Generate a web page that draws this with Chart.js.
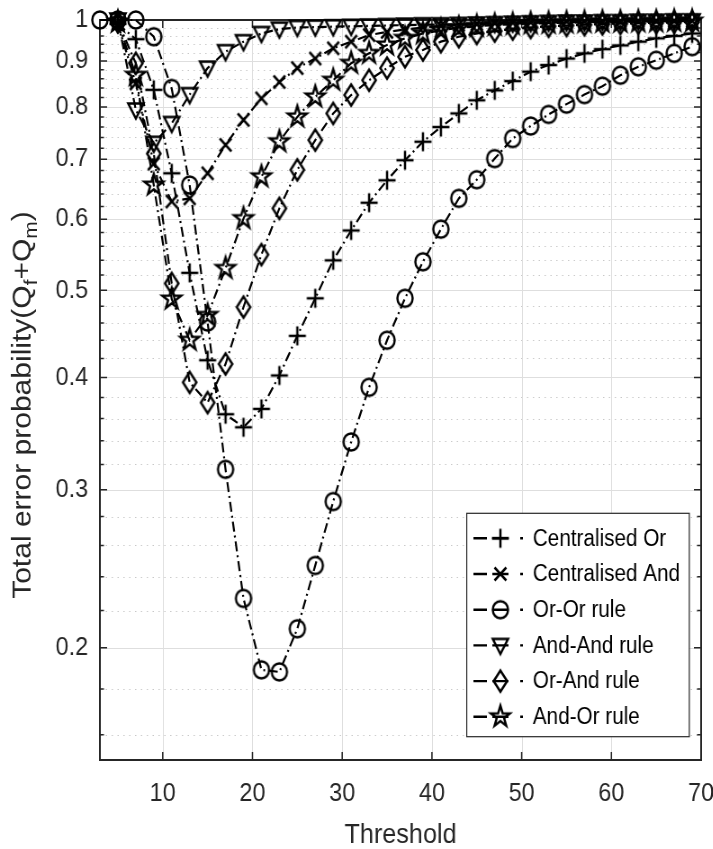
<!DOCTYPE html>
<html>
<head>
<meta charset="utf-8">
<script src="https://cdn.jsdelivr.net/npm/chart.js@4.4.0/dist/chart.umd.min.js"></script>
<style>
  html, body { margin: 0; padding: 0; background: #fff; overflow: hidden; }
  /* the figure is drawn slightly wide and squeezed back horizontally */
  #wrap { position: relative; width: 792px; height: 849px; transform: scaleX(0.9); transform-origin: 0 0; }
</style>
</head>
<body>
<div id="wrap"><canvas id="errChart"></canvas></div>
<script>
const thresholds = [3, 5, 7, 9, 11, 13, 15, 17, 19, 21, 23, 25, 27, 29, 31, 33, 35,
                    37, 39, 41, 43, 45, 47, 49, 51, 53, 55, 57, 59, 61, 63, 65, 67, 69];

// null = no point at that threshold
const centralisedOr  = [null, 0.99, 0.952, 0.836, 0.675, 0.523, 0.418, 0.364, 0.352, 0.369, 0.402, 0.445, 0.490, 0.540, 0.583, 0.626, 0.663,
                        0.698, 0.732, 0.760, 0.787, 0.814, 0.835, 0.855, 0.876, 0.891, 0.906, 0.918, 0.928, 0.937, 0.946, 0.954, 0.960, 0.966];
const centralisedAnd = [null, 0.99, 0.85, 0.692, 0.628, 0.633, 0.675, 0.726, 0.774, 0.818, 0.853, 0.884, 0.906, 0.930, 0.946, 0.962, 0.970,
                        0.976, 0.981, 0.985, 0.988, 0.990, 0.992, 0.993, 0.994, 0.995, 0.996, 0.996, 0.997, 0.997, 0.998, 0.998, 0.998, 0.998];
const orOrRule       = [1.0, 1.0, 1.0, 0.958, 0.839, 0.655, 0.461, 0.316, 0.227, 0.189, 0.188, 0.210, 0.247, 0.291, 0.339, 0.390, 0.440,
                        0.490, 0.538, 0.585, 0.633, 0.664, 0.701, 0.738, 0.762, 0.785, 0.806, 0.826, 0.844, 0.868, 0.887, 0.902, 0.918, 0.934];
const andAndRule     = [null, 1.0, 0.794, 0.729, 0.767, 0.826, 0.884, 0.922, 0.946, 0.966, 0.977, 0.981, 0.982, 0.983, 0.984, 0.985, 0.986,
                        0.987, 0.988, 0.988, 0.989, 0.990, 0.991, 0.992, 0.993, 0.994, 0.995, 0.995, 0.996, 0.996, 0.997, 0.997, 0.998, 0.998];
const orAndRule      = [null, 0.995, 0.895, 0.710, 0.509, 0.395, 0.375, 0.414, 0.479, 0.548, 0.617, 0.681, 0.735, 0.787, 0.825, 0.857, 0.884,
                        0.910, 0.926, 0.946, 0.958, 0.966, 0.972, 0.977, 0.981, 0.984, 0.986, 0.988, 0.990, 0.991, 0.992, 0.993, 0.994, 0.995];
const andOrRule      = [null, 0.995, 0.868, 0.655, 0.489, 0.440, 0.469, 0.529, 0.601, 0.669, 0.732, 0.780, 0.821, 0.857, 0.895, 0.918, 0.938,
                        0.954, 0.966, 0.974, 0.980, 0.984, 0.987, 0.989, 0.991, 0.992, 0.993, 0.994, 0.995, 0.995, 0.996, 0.996, 0.997, 0.997];

const seriesNames = ['Centralised Or', 'Centralised And', 'Or-Or rule', 'And-And rule', 'Or-And rule', 'And-Or rule'];
const xTickValues = [10, 20, 30, 40, 50, 60, 70];
const yTickValues = [0.2, 0.3, 0.4, 0.5, 0.6, 0.7, 0.8, 0.9, 1];
const yMinorValues = [0.16, 0.18, 0.22, 0.24, 0.26, 0.28, 0.32, 0.34, 0.36, 0.38, 0.42, 0.44, 0.46, 0.48,
                      0.52, 0.54, 0.56, 0.58, 0.62, 0.64, 0.66, 0.68, 0.72, 0.74, 0.76, 0.78,
                      0.82, 0.84, 0.86, 0.88, 0.92, 0.94, 0.96, 0.98];

const FONT = '"Liberation Sans", Arial, Helvetica, sans-serif';
const INK = '#262626';
const CANVAS_W = 792, CANVAS_H = 849;
const AREA = { left: 111, right: 779, top: 20, bottom: 760 };

// open matlab-style markers, drawn once into small canvases
function markerCanvas(draw) {
  const c = document.createElement('canvas');
  c.width = 30; c.height = 30;
  const g = c.getContext('2d');
  g.translate(15, 15);
  g.strokeStyle = '#000';
  g.lineWidth = 2.5;
  g.beginPath();
  draw(g);
  g.stroke();
  return c;
}

const markers = [
  markerCanvas(g => { g.moveTo(-9.5, 0); g.lineTo(9.5, 0); g.moveTo(0, -9.5); g.lineTo(0, 9.5); }),
  markerCanvas(g => { g.moveTo(-6.5, -6.5); g.lineTo(6.5, 6.5); g.moveTo(6.5, -6.5); g.lineTo(-6.5, 6.5); }),
  markerCanvas(g => { g.arc(0, 0, 8.5, 0, Math.PI * 2); }),
  markerCanvas(g => { g.moveTo(-8.5, -6.5); g.lineTo(8.5, -6.5); g.lineTo(0, 8.5); g.closePath(); }),
  markerCanvas(g => { g.moveTo(0, -10.5); g.lineTo(7.5, 0); g.lineTo(0, 10.5); g.lineTo(-7.5, 0); g.closePath(); }),
  markerCanvas(g => {
    for (let k = 0; k < 10; k++) {
      const r = k % 2 ? 4.3 : 11;
      const a = -Math.PI / 2 + k * Math.PI / 5;
      if (k === 0) g.moveTo(r * Math.cos(a), r * Math.sin(a));
      else g.lineTo(r * Math.cos(a), r * Math.sin(a));
    }
    g.closePath();
  })
];

const allSeries = [centralisedOr, centralisedAnd, orOrRule, andAndRule, orAndRule, andOrRule];

const datasets = allSeries.map((vals, i) => ({
  label: seriesNames[i],
  data: thresholds.map((x, j) => ({ x: x, y: vals[j] })),
  borderColor: '#000',
  borderWidth: 2.2,
  borderDash: [10, 4, 2, 4],
  pointStyle: markers[i],
  pointRadius: 8,
  fill: false,
  tension: 0,
  clip: false
}));

// grid, box and inward ticks
const framePlugin = {
  id: 'frame',
  beforeDatasetsDraw(chart) {
    const ctx = chart.ctx;
    const xs = chart.scales.x, ys = chart.scales.y;
    const a = chart.chartArea;
    ctx.save();
    ctx.lineWidth = 1;
    ctx.strokeStyle = '#c8c8c8';
    ctx.setLineDash([1.5, 5]);
    yMinorValues.forEach(v => {
      const y = Math.round(ys.getPixelForValue(v)) + 0.5;
      ctx.beginPath(); ctx.moveTo(a.left, y); ctx.lineTo(a.right, y); ctx.stroke();
    });
    ctx.setLineDash([]);
    ctx.strokeStyle = '#dedede';
    yTickValues.forEach(v => {
      const y = Math.round(ys.getPixelForValue(v)) + 0.5;
      ctx.beginPath(); ctx.moveTo(a.left, y); ctx.lineTo(a.right, y); ctx.stroke();
    });
    xTickValues.forEach(v => {
      const x = Math.round(xs.getPixelForValue(v)) + 0.5;
      ctx.beginPath(); ctx.moveTo(x, a.top); ctx.lineTo(x, a.bottom); ctx.stroke();
    });

    ctx.strokeStyle = INK;
    ctx.lineWidth = 1.5;
    yMinorValues.forEach(v => {
      const y = ys.getPixelForValue(v);
      ctx.beginPath();
      ctx.moveTo(a.left, y); ctx.lineTo(a.left + 4.5, y);
      ctx.moveTo(a.right, y); ctx.lineTo(a.right - 4.5, y);
      ctx.stroke();
    });
    yTickValues.forEach(v => {
      const y = ys.getPixelForValue(v);
      ctx.beginPath();
      ctx.moveTo(a.left, y); ctx.lineTo(a.left + 8, y);
      ctx.moveTo(a.right, y); ctx.lineTo(a.right - 8, y);
      ctx.stroke();
    });
    xTickValues.forEach(v => {
      const x = xs.getPixelForValue(v);
      ctx.beginPath();
      ctx.moveTo(x, a.bottom); ctx.lineTo(x, a.bottom - 8);
      ctx.moveTo(x, a.top); ctx.lineTo(x, a.top + 8);
      ctx.stroke();
    });

    ctx.lineWidth = 2;
    ctx.strokeRect(a.left, a.top, a.right - a.left, a.bottom - a.top);
    ctx.restore();
  },
  afterDraw(chart) {
    const ctx = chart.ctx;
    const a = chart.chartArea;
    ctx.save();

    // axis titles
    ctx.fillStyle = INK;
    ctx.font = '28px ' + FONT;
    ctx.textAlign = 'center';
    ctx.textBaseline = 'alphabetic';
    ctx.fillText('Threshold', (a.left + a.right) / 2, 843);

    const parts = [['Total error probability(Q', false], ['f', true], ['+Q', false], ['m', true], [')', false]];
    const mainFont = '30px ' + FONT, subFont = '21px ' + FONT;
    ctx.translate(34, 405);
    ctx.rotate(-Math.PI / 2);
    ctx.textAlign = 'left';
    let total = 0;
    parts.forEach(p => { ctx.font = p[1] ? subFont : mainFont; total += ctx.measureText(p[0]).width; });
    let tx = -total / 2;
    parts.forEach(p => {
      ctx.font = p[1] ? subFont : mainFont;
      ctx.fillText(p[0], tx, p[1] ? 7 : 0);
      tx += ctx.measureText(p[0]).width;
    });
    ctx.restore();

    // legend
    ctx.save();
    const L = 518.6, R = 765.9, T = 513.3, B = 736.7;
    ctx.fillStyle = '#fff';
    ctx.fillRect(L, T, R - L, B - T);
    ctx.strokeStyle = INK;
    ctx.lineWidth = 1.2;
    ctx.strokeRect(L, T, R - L, B - T);
    ctx.font = '23px ' + FONT;
    ctx.textAlign = 'left';
    ctx.textBaseline = 'middle';
    seriesNames.forEach((name, i) => {
      const y = 538.3 + i * 35.7;
      ctx.strokeStyle = '#000';
      ctx.lineWidth = 2.4;
      ctx.beginPath();
      ctx.moveTo(526, y); ctx.lineTo(541, y);
      ctx.moveTo(547, y); ctx.lineTo(565, y);
      ctx.moveTo(578, y); ctx.lineTo(581, y);
      ctx.stroke();
      ctx.drawImage(markers[i], 556 - 15, y - 15);
      ctx.fillStyle = '#000';
      ctx.fillText(name, 592, y + 1);
    });
    ctx.restore();
  }
};

new Chart(document.getElementById('errChart'), {
  type: 'line',
  data: { datasets: datasets },
  options: {
    responsive: true,
    maintainAspectRatio: false,
    animation: false,
    events: [],
    layout: { padding: { left: 0, right: CANVAS_W - AREA.right, top: AREA.top, bottom: 0 } },
    plugins: { legend: { display: false }, tooltip: { enabled: false } },
    scales: {
      x: {
        type: 'linear',
        min: 3,
        max: 70,
        grid: { display: false, drawTicks: false },
        border: { display: false },
        afterBuildTicks: s => { s.ticks = xTickValues.map(v => ({ value: v })); },
        afterFit: s => { s.height = CANVAS_H - AREA.bottom; s.paddingLeft = 0; s.paddingRight = 0; },
        ticks: { font: { family: FONT, size: 26 }, color: INK, padding: 18, maxRotation: 0, autoSkip: false }
      },
      y: {
        type: 'logarithmic',
        min: 0.15,
        max: 1,
        grid: { display: false, drawTicks: false },
        border: { display: false },
        afterBuildTicks: s => { s.ticks = yTickValues.map(v => ({ value: v })); },
        afterFit: s => { s.width = AREA.left; s.paddingTop = 0; s.paddingBottom = 0; },
        ticks: {
          font: { family: FONT, size: 26 }, color: INK, padding: 13, autoSkip: false,
          callback: v => String(Math.round(v * 10) / 10)
        }
      }
    }
  },
  plugins: [framePlugin]
});
</script>
</body>
</html>
